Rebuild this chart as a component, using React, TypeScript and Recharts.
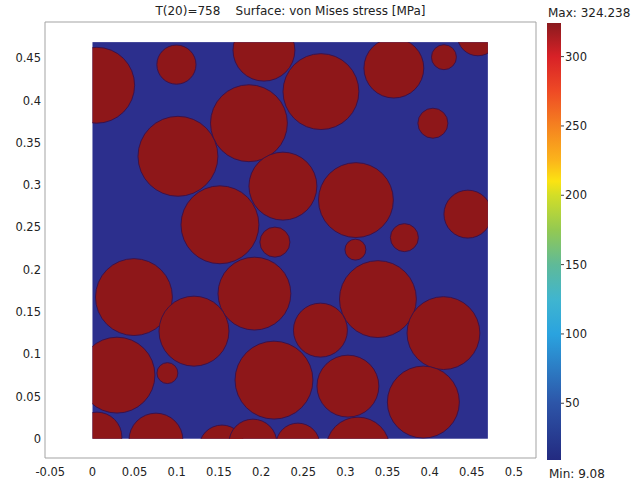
import React from 'react';
import {
  ScatterChart,
  Scatter,
  XAxis,
  YAxis,
  ZAxis,
  ReferenceArea,
  ReferenceLine,
  ComposedChart,
} from 'recharts';

// ---------- data ----------
const TITLE = 'T(20)=758    Surface: von Mises stress [MPa]';

// particle centres (m) and radii (m)
const particleX = [
  0.005, 0.0996, 0.2034, 0.271, 0.3575, 0.4169, 0.4572, 0.4038, 0.1856, 0.1014,
  0.2259, 0.3125, 0.4453, 0.1512, 0.2164, 0.0492, 0.1921, 0.1204, 0.0291, 0.0889,
  0.2153, 0.0053, 0.0753, 0.1536, 0.1903, 0.2437, 0.3149, 0.37, 0.3119, 0.3386,
  0.2704, 0.4163, 0.303, 0.3925,
];
const particleY = [
  0.418, 0.4424, 0.4595, 0.4105, 0.4383, 0.4512, 0.4773, 0.3731, 0.3731, 0.334,
  0.2987, 0.2822, 0.2656, 0.253, 0.2325, 0.1675, 0.1716, 0.1272, 0.0752, 0.0776,
  0.0693, 0.0019, -0.0017, -0.0111, -0.0052, -0.0076, -0.0123, 0.2378, 0.2236, 0.1651,
  0.1284, 0.1249, 0.0622, 0.0433,
];
const particleR = [
  0.045, 0.0232, 0.0367, 0.045, 0.0355, 0.0148, 0.0245, 0.0178, 0.0456, 0.0474,
  0.0403, 0.0444, 0.0284, 0.0462, 0.0178, 0.0456, 0.0432, 0.0415, 0.045, 0.0124,
  0.0462, 0.0296, 0.032, 0.0273, 0.0284, 0.0261, 0.0379, 0.0166, 0.0124, 0.0456,
  0.032, 0.0432, 0.0367, 0.0427,
];

const DOMAIN_SIDE = 0.469;
const xTicks = [-0.05, 0, 0.05, 0.1, 0.15, 0.2, 0.25, 0.3, 0.35, 0.4, 0.45, 0.5];
const yTicks = [0, 0.05, 0.1, 0.15, 0.2, 0.25, 0.3, 0.35, 0.4, 0.45];
const X_MIN = -0.0563;
const X_MAX = 0.5261;
const Y_MIN = -0.0228;
const Y_MAX = 0.4928;

const STRESS_MIN = 9.08;
const STRESS_MAX = 324.238;
const colorTicks = [50, 100, 150, 200, 250, 300];

const particles = particleX.map((x, i) => ({ x, y: particleY[i], r: particleR[i] }));

// ---------- styles ----------
const BLUE = '#2c2f8d';
const RED = '#8e1719';
const EDGE = '#3e1248';
const FONT = '"DejaVu Sans", Verdana, sans-serif';
const CHART_W = 540;
const CHART_H = 485;
const MARGIN = { top: 22, right: 4, bottom: 2, left: 5 };
const Y_AXIS_W = 40;
const X_AXIS_H = 25;
const PLOT_W = CHART_W - MARGIN.left - MARGIN.right - Y_AXIS_W;
const PX_PER_UNIT = PLOT_W / (X_MAX - X_MIN);

const tickStyle = { fontFamily: FONT, fontSize: 11.5, fill: '#222' };

const DomainShape = (p: any) => (
  <g>
    <defs>
      <clipPath id="domainClip">
        <rect x={p.x} y={p.y} width={p.width} height={p.height} />
      </clipPath>
    </defs>
    <rect x={p.x} y={p.y} width={p.width} height={p.height} fill={BLUE} />
  </g>
);

const Particle = (props: any) => {
  const { cx, cy, size, width } = props;
  const r = typeof size === 'number' ? size : Math.PI * (width / 2) ** 2;
  return (
    <circle
      cx={cx}
      cy={cy}
      r={r}
      fill={RED}
      stroke={EDGE}
      strokeWidth={1}
      clipPath="url(#domainClip)"
    />
  );
};

const TitleLabel = (p: any) => {
  const vb = p.viewBox || {};
  return (
    <text
      x={vb.x + vb.width / 2}
      y={vb.y - 7}
      textAnchor="middle"
      fontFamily={FONT}
      fontSize={12}
      fill="#222"
      style={{ whiteSpace: 'pre' }}
    >
      {TITLE}
    </text>
  );
};

const BarShape = (p: any) => (
  <g>
    <defs>
      <linearGradient id="jet" x1="0" y1="0" x2="0" y2="1">
        <stop offset="0" stopColor="#8a1a1e" />
        <stop offset="0.077" stopColor="#d82127" />
        <stop offset="0.156" stopColor="#ee4a25" />
        <stop offset="0.236" stopColor="#f58220" />
        <stop offset="0.315" stopColor="#fbb51b" />
        <stop offset="0.362" stopColor="#fbe312" />
        <stop offset="0.394" stopColor="#d3de27" />
        <stop offset="0.474" stopColor="#93c952" />
        <stop offset="0.553" stopColor="#5fba98" />
        <stop offset="0.632" stopColor="#40b5cf" />
        <stop offset="0.712" stopColor="#2aa3df" />
        <stop offset="0.791" stopColor="#2c7cc4" />
        <stop offset="0.87" stopColor="#2d55a8" />
        <stop offset="1" stopColor="#232a80" />
      </linearGradient>
    </defs>
    <rect x={p.x} y={p.y} width={p.width} height={p.height} fill="url(#jet)" />
  </g>
);

const MaxLabel = (p: any) => {
  const vb = p.viewBox || {};
  return (
    <text x={vb.x + 1} y={vb.y - 6} fontFamily={FONT} fontSize={12} fill="#222">
      {`Max: ${STRESS_MAX}`}
    </text>
  );
};

const MinLabel = (p: any) => {
  const vb = p.viewBox || {};
  return (
    <text x={vb.x + 2} y={vb.y + 18} fontFamily={FONT} fontSize={12} fill="#222">
      {`Min: ${STRESS_MIN}`}
    </text>
  );
};

export default function App() {
  return (
    <div style={{ position: 'absolute', left: 0, top: 0, width: 638, height: 485, background: '#fff' }}>
      <div style={{ position: 'absolute', left: 0, top: 0 }}>
        <ScatterChart width={CHART_W} height={CHART_H} margin={MARGIN}>
          <XAxis
            type="number"
            dataKey="x"
            domain={[X_MIN, X_MAX]}
            allowDataOverflow
            ticks={xTicks}
            interval={0}
            axisLine={false}
            tickLine={false}
            tickSize={0}
            tickMargin={10}
            height={X_AXIS_H}
            tick={tickStyle}
          />
          <YAxis
            type="number"
            dataKey="y"
            domain={[Y_MIN, Y_MAX]}
            allowDataOverflow
            ticks={yTicks}
            interval={0}
            axisLine={false}
            tickLine={false}
            tickSize={0}
            tickMargin={4}
            width={Y_AXIS_W}
            tick={tickStyle}
          />
          <ZAxis type="number" dataKey="r" domain={[0, 1]} range={[0, PX_PER_UNIT]} />
          <ReferenceArea
            x1={X_MIN}
            x2={X_MAX}
            y1={Y_MIN}
            y2={Y_MAX}
            fill="none"
            stroke="#a3a3a3"
            strokeWidth={1}
            label={{ content: TitleLabel }}
          />
          <ReferenceArea x1={0} x2={DOMAIN_SIDE} y1={0} y2={DOMAIN_SIDE} shape={DomainShape} />
          <Scatter data={particles} shape={Particle} isAnimationActive={false} />
        </ScatterChart>
      </div>
      <div style={{ position: 'absolute', left: 540, top: 0 }}>
        <ComposedChart
          width={98}
          height={485}
          data={[{ x: 0 }, { x: 1 }]}
          margin={{ top: 23, right: 0, bottom: 25, left: 7 }}
        >
          <XAxis type="number" dataKey="x" domain={[0, 1]} hide />
          <YAxis
            orientation="right"
            type="number"
            domain={[STRESS_MIN, STRESS_MAX]}
            allowDataOverflow
            ticks={colorTicks}
            interval={0}
            axisLine={false}
            tickLine={{ stroke: '#444' }}
            tickSize={3}
            tickMargin={1}
            width={77}
            tick={{ ...tickStyle, textAnchor: 'start' }}
          />
          <ReferenceArea
            x1={0}
            x2={1}
            y1={STRESS_MIN}
            y2={STRESS_MAX}
            shape={BarShape}
            label={{ content: MaxLabel }}
          />
          <ReferenceLine y={STRESS_MIN} stroke="none" label={{ content: MinLabel }} />
        </ComposedChart>
      </div>
    </div>
  );
}
